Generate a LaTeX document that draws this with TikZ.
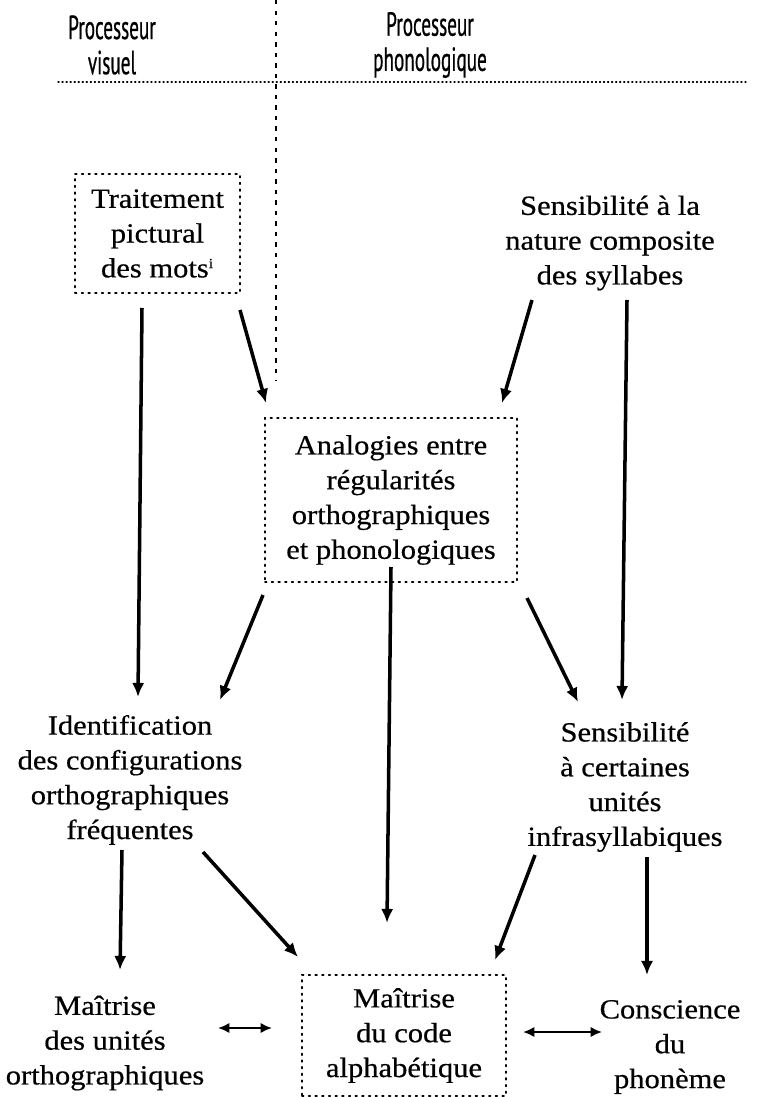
\documentclass[tikz,border=0pt]{standalone}
\usepackage{fontspec}
\setmainfont[FakeStretch=1.1,FakeBold=0.5]{Liberation Serif}
\newfontfamily\headfont[FakeStretch=0.575,FakeBold=0.6]{PT Sans}
\usetikzlibrary{arrows.meta,calc}
\begin{document}
\begin{tikzpicture}[x=0.02cm,y=-0.02cm,
  txt/.style={align=center,font=\fontsize{15.8}{19.8}\selectfont,inner sep=0pt},
  hdr/.style={align=center,font=\headfont\fontsize{19}{20}\selectfont,inner sep=0pt},
  dotbox/.style={txt,draw,line width=1pt,dash pattern=on 0.9pt off 2.9pt,line cap=round},
  arr/.style={line width=2pt,-{Latex[length=8pt,width=7pt]}},
  biarr/.style={line width=1.5pt,{Latex[length=6.5pt,width=6pt]}-{Latex[length=6.5pt,width=6pt]}},
  divider/.style={line width=0.9pt,dash pattern=on 2.5pt off 3.5pt},
  rule/.style={line width=0.7pt,dash pattern=on 0.6pt off 1.7pt,line cap=round}]
\useasboundingbox (0,0) rectangle (757,1097);

% column headings and separators
\node[hdr] (visuel) at (112,45) {Processeur\\visuel};
\node[hdr] (phono) at (430,45) {Processeur\\phonologique};
\coordinate (ruleL) at (58,82);
\coordinate (ruleR) at (748,82);
\coordinate (divT) at (276,0);
\coordinate (divB) at (276,380);
\draw[rule] (ruleL) -- (ruleR);
\draw[divider] (divT) -- (divB);

% boxed stages
\node[dotbox,minimum width=165*0.02cm,minimum height=119*0.02cm] (trait) at (157.5,233.5)
  {Traitement\\pictural\\des mots\textsuperscript{\footnotesize i}};
\node[dotbox,minimum width=252*0.02cm,minimum height=164*0.02cm] (anal) at (391,500)
  {Analogies entre\\régularités\\orthographiques\\et phonologiques};
\node[dotbox,minimum width=204*0.02cm,minimum height=121*0.02cm] (maitr) at (404,1035.5)
  {Maîtrise\\du code\\alphabétique};

% free stages
\node[txt] (sens1) at (610,243) {Sensibilité à la\\nature composite\\des syllabes};
\node[txt] (ident) at (130,780) {Identification\\des configurations\\orthographiques\\fréquentes};
\node[txt] (sens2) at (625,787) {Sensibilité\\à certaines\\unités\\infrasyllabiques};
\node[txt] (unites) at (105,1043) {Maîtrise\\des unités\\orthographiques};
\node[txt] (consc) at (670,1047) {Conscience\\du\\phonème};

% influences
\draw[arr] ($(trait)+(-15.5,74.5)$) -- ($(ident)+(8,-83)$);
\draw[arr] ($(trait)+(82.5,76.5)$) -- ($(anal)+(-125,-97)$);
\draw[arr] ($(sens1)+(-78,57)$) -- ($(anal)+(111,-97)$);
\draw[arr] ($(sens1)+(17,57)$) -- ($(sens2)+(-3,-87)$);
\draw[arr] ($(anal)+(-128,95)$) -- ($(ident)+(90,-80)$);
\draw[arr] ($(anal)+(0,67)$) -- ($(maitr)+(-17,-112.5)$);
\draw[arr] ($(anal)+(136,98)$) -- ($(sens2)+(-47,-85)$);
\draw[arr] ($(ident)+(-8,70)$) -- ($(unites)+(15,-73)$);
\draw[arr] ($(ident)+(73,72)$) -- ($(maitr)+(-106,-78.5)$);
\draw[arr] ($(sens2)+(-90,68)$) -- ($(maitr)+(91,-75.5)$);
\draw[arr] ($(sens2)+(22,70)$) -- ($(consc)+(-23,-72)$);

% reciprocal links
\draw[biarr] ($(unites)+(113,-15)$) -- ($(maitr)+(-132,-7.5)$);
\draw[biarr] ($(maitr)+(119,-3.5)$) -- ($(consc)+(-68,-15)$);
\end{tikzpicture}
\end{document}
